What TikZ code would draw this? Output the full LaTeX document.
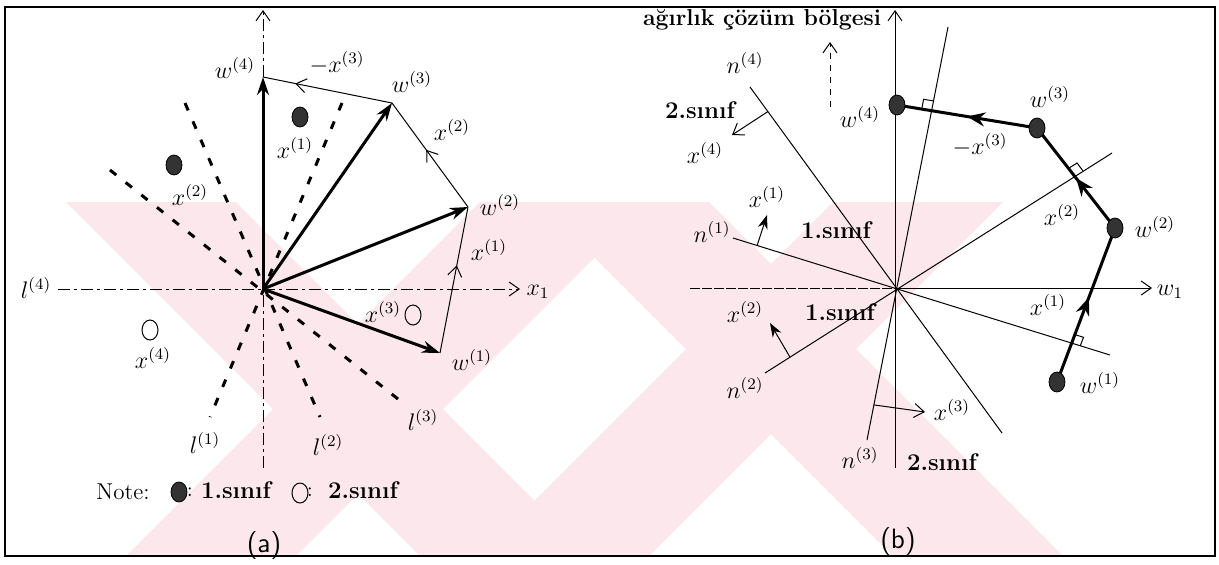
\documentclass[tikz,border=0pt]{standalone}
\usetikzlibrary{arrows.meta,calc,decorations.markings,shapes.geometric}
\definecolor{wmpink}{RGB}{252,232,236}
\begin{document}
\begin{tikzpicture}[x=0.5pt,y=-0.5pt,
  lbl/.style={font=\fontsize{12}{14}\selectfont, inner sep=0pt},
  cls/.style={font=\fontsize{12}{14}\selectfont\bfseries, inner sep=0pt},
  thinln/.style={line width=0.5pt},
  thick vec/.style={line width=1.5pt, -{Stealth[length=9pt,width=6pt]}},
  bdash/.style={line width=1.5pt, dash pattern=on 4pt off 6pt},
  axisdd/.style={line width=0.5pt, dash pattern=on 6pt off 2pt on 1.5pt off 2pt},
  openarr/.style={-{Straight Barb[length=5pt,width=7pt]}},
  midopen/.style={postaction={decorate}, decoration={markings, mark=at position #1 with {\arrow{Straight Barb[length=5pt,width=7pt]}}}},
  midfill/.style={postaction={decorate}, decoration={markings, mark=at position #1 with {\arrow{Stealth[length=9pt,width=7pt]}}}},
  fdot/.style={fill=black!80, draw=black, line width=0.4pt, ellipse, minimum width=8pt, minimum height=10pt, inner sep=0pt},
  odot/.style={draw=black, line width=0.5pt, ellipse, minimum width=8pt, minimum height=10pt, inner sep=0pt},
  wm/.style={fill=wmpink, draw=none},
]
\useasboundingbox (0,0) rectangle (1219,564);

% ---- faint watermark (background) ----
\begin{scope}
\clip (6,202) rectangle (1214,555);
\fill[wm] (66,202) -- (236,202) -- (590,556) -- (420,556) -- cycle;
\fill[wm] (480,202) -- (650,202) -- (296,556) -- (126,556) -- cycle;
\fill[wm] (539,202) -- (709,202) -- (1063,556) -- (893,556) -- cycle;
\fill[wm] (833,202) -- (1003,202) -- (649,556) -- (479,556) -- cycle;
\end{scope}

\draw[line width=1pt] (5,7) rectangle (1215,556);

% ================= panel (a) =================
\coordinate (O) at (263,289);
\coordinate (yb) at (263,468);
\coordinate (yt) at (263,10);
\coordinate (xl) at (58,289);
\coordinate (xr) at (520,289);
\coordinate (aw4) at (263,77);
\coordinate (aw3) at (392,103);
\coordinate (aw2) at (468,207);
\coordinate (aw1) at (440,353);

% axes
\draw[axisdd] (xl) -- (O);
\draw[axisdd, openarr] (O) -- (xr);
\draw[axisdd] (yb) -- (O);
\draw[axisdd, openarr] (aw4) -- (yt);

% dashed separating lines
\coordinate (l1a) at (342,103); \coordinate (l1b) at (210,417);
\coordinate (l2a) at (185,103); \coordinate (l2b) at (320,417);
\coordinate (l3a) at (110,170); \coordinate (l3b) at (403,403);
\draw[bdash] (l1a) -- (l1b);
\draw[bdash] (l2a) -- (l2b);
\draw[bdash] (l3a) -- (l3b);

% weight vectors
\draw[thick vec] (O) -- (aw1);
\draw[thick vec] (O) -- (aw2);
\draw[thick vec] (O) -- (aw3);
\draw[thick vec] (O) -- (aw4);

% update path
\draw[thinln, midopen=0.6] (aw1) -- (aw2);
\draw[thinln, midopen=0.55] (aw2) -- (aw3);
\draw[thinln, midopen=0.75] (aw3) -- (aw4);

% samples
\node[fdot] (ax1) at (300,117) {};
\node[fdot] (ax2) at (174,165) {};
\node[odot] (ax3) at (413,315) {};
\node[odot] (ax4) at (150,330) {};

% labels
\node[lbl] at (295,148) {$x^{(1)}$};
\node[lbl] at (190,195) {$x^{(2)}$};
\node[lbl] at (383,312) {$x^{(3)}$};
\node[lbl] at (153,358) {$x^{(4)}$};
\node[lbl] at (235,68) {$w^{(4)}$};
\node[lbl] at (412,82) {$w^{(3)}$};
\node[lbl] at (500,205) {$w^{(2)}$};
\node[lbl] at (472,360) {$w^{(1)}$};
\node[lbl] at (489,250) {$x^{(1)}$};
\node[lbl] at (452,130) {$x^{(2)}$};
\node[lbl] at (337,63) {$-x^{(3)}$};
\node[lbl] at (205,443) {$l^{(1)}$};
\node[lbl] at (328,445) {$l^{(2)}$};
\node[lbl] at (423,420) {$l^{(3)}$};
\node[lbl] at (36,288) {$l^{(4)}$};
\node[lbl] at (538,292) {$x_1$};

% legend
\node[font=\fontsize{11.5}{13}\selectfont, inner sep=0pt] at (123,492) {Note:};
\node[fdot] (lg1) at (179,492) {};
\node[inner sep=0pt] at (190,492) {:};
\node[cls] at (236,490) {1.sınıf};
\node[odot] (lg2) at (300,493) {};
\node[inner sep=0pt] at (310,492) {:};
\node[cls] at (363,490) {2.sınıf};
\node[font=\sffamily\fontsize{14}{16}\selectfont, inner sep=0pt] at (264,545) {(a)};

% ================= panel (b) =================
\coordinate (P) at (895,288);
\coordinate (byb) at (895,468);
\coordinate (byt) at (895,10);
\coordinate (bxl) at (690,288);
\coordinate (bxr) at (1152,288);
\coordinate (bw4) at (897,105);
\coordinate (bw3) at (1037,128);
\coordinate (bw2) at (1115,228);
\coordinate (bw1) at (1057,382);

\draw[thinln, openarr] (byb) -- (byt);
\draw[thinln, dash pattern=on 5pt off 1pt] (bxl) -- (P);
\draw[thinln, openarr] (P) -- (bxr);
\coordinate (dA) at (830,107); \coordinate (dB) at (830,42);
\draw[thinln, dashed, openarr] (dA) -- (dB);

% hyperplanes
\coordinate (n4a) at (750,87);  \coordinate (n4b) at (1002,433);
\coordinate (n1a) at (733,238); \coordinate (n1b) at (1110,355);
\coordinate (n2a) at (765,373); \coordinate (n2b) at (1112,153);
\coordinate (n3a) at (867,440); \coordinate (n3b) at (948,27);
\draw[thinln] (n4a) -- (n4b);
\draw[thinln] (n1a) -- (n1b);
\draw[thinln] (n2a) -- (n2b);
\draw[thinln] (n3a) -- (n3b);

% normal vectors
\coordinate (m4) at ($(n4a)!0.071!(n4b)$); \coordinate (m4e) at (732,135);
\coordinate (m1) at ($(n1a)!0.064!(n1b)$); \coordinate (m1e) at (767,215);
\coordinate (m2) at ($(n2a)!0.072!(n2b)$); \coordinate (m2e) at (770,323);
\coordinate (m3) at ($(n3a)!0.085!(n3b)$); \coordinate (m3e) at (925,412);
\draw[thinln, -{Straight Barb[length=5pt,width=7pt]}] (m4) -- (m4e);
\draw[thinln, -{Stealth[length=7pt,width=5pt]}] (m1) -- (m1e);
\draw[thinln, -{Stealth[length=7pt,width=5pt]}] (m2) -- (m2e);
\draw[thinln, -{Straight Barb[length=5pt,width=7pt]}] (m3) -- (m3e);

% right-angle marks
\draw[thinln] (921.7,109.1) -- (923.6,99.3) -- (933.5,100.9);
\draw[thinln] (1068.5,168.4) -- (1077,163) -- (1083,171);
\draw[thinln] (1074.9,334.6) -- (1083.5,337.3) -- (1080.3,345.7);

% weight path
\draw[line width=1.5pt, midfill=0.55] (bw1) -- (bw2);
\draw[line width=1.5pt, midfill=0.5] (bw2) -- (bw3);
\draw[line width=1.5pt, midfill=0.5] (bw3) -- (bw4);
\node[fdot] (bd4) at (bw4) {};
\node[fdot] (bd3) at (bw3) {};
\node[fdot] (bd2) at (bw2) {};
\node[fdot] (bd1) at (bw1) {};

% labels (b)
\node[font=\fontsize{11.5}{13}\selectfont\bfseries, inner sep=0pt] at (762,20) {ağırlık çözüm bölgesi};
\node[lbl] at (745,63) {$n^{(4)}$};
\node[lbl] at (705,153) {$x^{(4)}$};
\node[cls] at (700,110) {2.sınıf};
\node[lbl] at (712,232) {$n^{(1)}$};
\node[lbl] at (767,197) {$x^{(1)}$};
\node[cls] at (836,230) {1.sınıf};
\node[lbl] at (745,388) {$n^{(2)}$};
\node[lbl] at (745,312) {$x^{(2)}$};
\node[cls] at (840,312) {1.sınıf};
\node[lbl] at (860,458) {$n^{(3)}$};
\node[lbl] at (952,410) {$x^{(3)}$};
\node[cls] at (942,462) {2.sınıf};
\node[lbl] at (860,117) {$w^{(4)}$};
\node[lbl] at (1050,97) {$w^{(3)}$};
\node[lbl] at (1155,227) {$w^{(2)}$};
\node[lbl] at (1100,383) {$w^{(1)}$};
\node[lbl] at (1048,305) {$x^{(1)}$};
\node[lbl] at (1062,215) {$x^{(2)}$};
\node[lbl] at (980,145) {$-x^{(3)}$};
\node[lbl] at (1170,292) {$w_1$};
\node[font=\sffamily\fontsize{14}{16}\selectfont, inner sep=0pt] at (898,541) {(b)};
\end{tikzpicture}
\end{document}
